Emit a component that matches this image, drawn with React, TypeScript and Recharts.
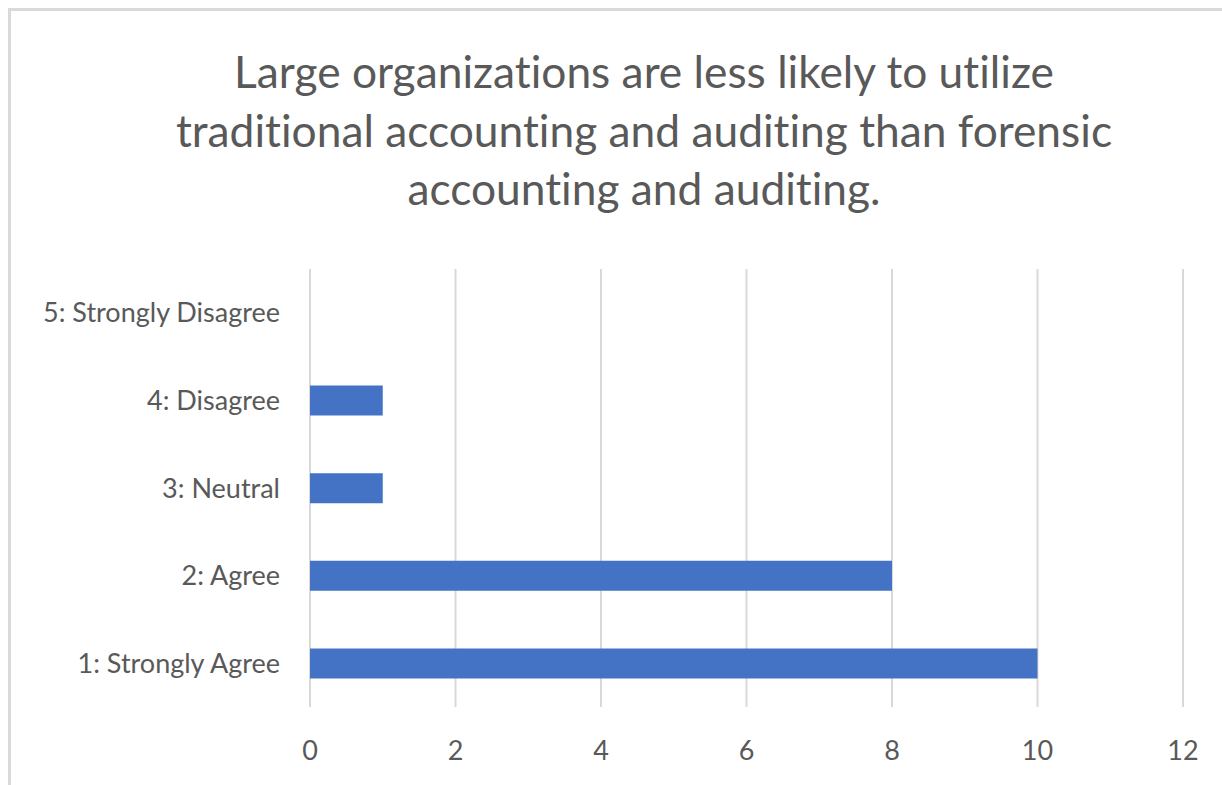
import React from "react";
import { BarChart, Bar, XAxis, YAxis, CartesianGrid } from "recharts";

const categories = ["1: Strongly Agree", "2: Agree", "3: Neutral", "4: Disagree", "5: Strongly Disagree"];
const counts = [10, 8, 1, 1, 0];
const xTicks = [0, 2, 4, 6, 8, 10, 12];
const titleLines = [
  "Large organizations are less likely to utilize",
  "traditional accounting and auditing than forensic",
  "accounting and auditing.",
];

const data = categories.map((c, i) => ({ name: c, value: counts[i] }));

const FONT = "Lato, 'Open Sans', sans-serif";
const TEXT = "#595959";

export default function App() {
  return (
    <div style={{ position: "fixed", left: 0, top: 0, width: 1222, height: 785, background: "#fff", overflow: "hidden", fontFamily: FONT, fontVariantLigatures: "none" }}>
      <div style={{ position: "absolute", left: 8, top: 8, width: 1214, height: 777, borderTop: "3px solid #d9d9d9", borderLeft: "3px solid #d9d9d9", boxSizing: "border-box" }} />
      <div style={{ position: "absolute", left: 44, width: 1200, top: 42, textAlign: "center", color: TEXT, fontSize: 44.3, lineHeight: "58.5px", whiteSpace: "nowrap" }}>
        {titleLines.map((l, i) => (
          <div key={i}>{l}</div>
        ))}
      </div>
      <div style={{ position: "absolute", left: 0, top: 0 }}>
        <BarChart width={1222} height={785} data={data} layout="vertical" margin={{ top: 269, right: 39, bottom: 38, left: 0 }}>
          <CartesianGrid horizontal={false} vertical={true} stroke="#d9d9d9" strokeWidth={2} />
          <XAxis
            type="number"
            domain={[0, 12]}
            ticks={xTicks}
            height={40}
            axisLine={false}
            tickLine={false}
            tickMargin={28}
            tick={{ fill: TEXT, fontSize: 27, fontFamily: FONT }}
          />
          <YAxis
            type="category"
            dataKey="name"
            reversed
            width={310}
            axisLine={false}
            tickLine={false}
            tickMargin={24}
            tick={{ fill: TEXT, fontSize: 27, fontFamily: FONT }}
          />
          <Bar dataKey="value" fill="#4472C4" barSize={30} isAnimationActive={false} />
        </BarChart>
      </div>
    </div>
  );
}
